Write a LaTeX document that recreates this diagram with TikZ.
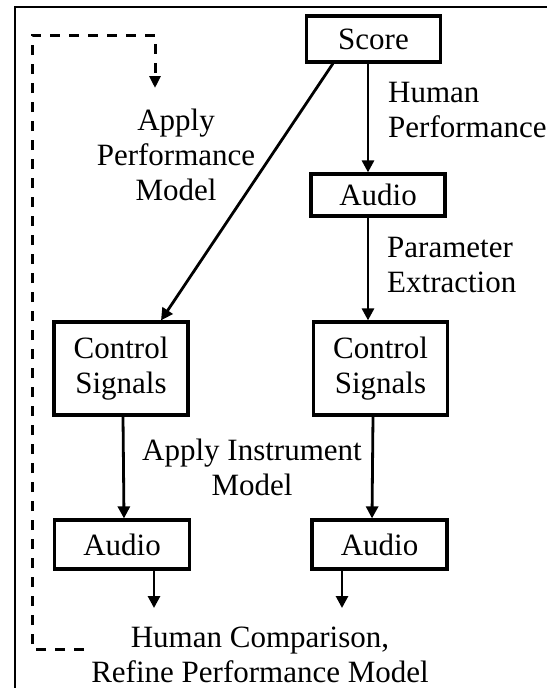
\documentclass[tikz,border=0pt]{standalone}
\usepackage{fontspec}
\setmainfont{Liberation Serif}
\usetikzlibrary{arrows.meta}
\begin{document}
\begin{tikzpicture}[x=1pt,y=-1pt,
  font=\fontsize{31}{35}\selectfont,
  box/.style={draw,line width=3.2pt,inner sep=0pt,align=center},
  lbl/.style={inner sep=0pt,align=center},
  arr/.style={line width=2.8pt,-{Triangle[length=12pt,width=12pt]}},
  feedback/.style={line width=3pt,dash pattern=on 10pt off 9pt,-{Triangle[length=12pt,width=11pt]}}]
\useasboundingbox (0,0) rectangle (547,688);
% outer frame
\draw[line width=2.6pt] (15,688) -- (15,7) -- (547,7);

% boxes
\node[box,minimum width=134pt,minimum height=46pt] (score)  at (373.5,39)   {Score};
\node[box,minimum width=134pt,minimum height=42pt] (audioH) at (378,195)    {Audio};
\node[box,minimum width=134pt,minimum height=93pt] (ctrlL)  at (121,368.5)  {Control\\Signals};
\node[box,minimum width=134pt,minimum height=93pt] (ctrlR)  at (380.5,368.5){Control\\Signals};
\node[box,minimum width=135pt,minimum height=49pt] (audioL) at (122,544.5)  {Audio};
\node[box,minimum width=135pt,minimum height=49pt] (audioR) at (379.5,544.5){Audio};

% labels
\node[lbl,anchor=west,align=left] (lblHuman) at (388,110) {Human\\Performance};
\node[lbl,anchor=west,align=left] (lblParam) at (387,265) {Parameter\\Extraction};
\node[lbl] (lblPerf)  at (176,155) {Apply\\Performance\\Model};
\node[lbl] (lblInstr) at (252,467) {Apply Instrument\\Model};
\node[lbl] (lblComp)  at (260,655) {Human Comparison,\\Refine Performance Model};

% helper coordinates for connector columns and free ends
\coordinate (colH) at (368,0);
\coordinate (outL) at (154,608);
\coordinate (outR) at (342,608);
\coordinate (fbStart) at (84,649);
\coordinate (fbEnd) at (155,88);

% connectors
\draw[arr] (score.south -| colH) -- (audioH.north -| colH);
\draw[arr] (audioH.south -| colH) -- (ctrlR.north -| colH);
\draw[arr] ([xshift=28pt]score.south west) -- ([xshift=40pt]ctrlL.north);
\draw[arr] ([xshift=2pt]ctrlL.south) -- ([xshift=2pt]audioL.north);
\draw[arr] ([xshift=-7.5pt]ctrlR.south) -- ([xshift=-7.5pt]audioR.north);
\draw[arr] (audioL.south -| outL) -- (outL);
\draw[arr] (audioR.south -| outR) -- (outR);

% feedback loop
\draw[feedback] (fbStart) -- (32,649) -- (32,35) -- (155,35) -- (fbEnd);
\end{tikzpicture}
\end{document}
